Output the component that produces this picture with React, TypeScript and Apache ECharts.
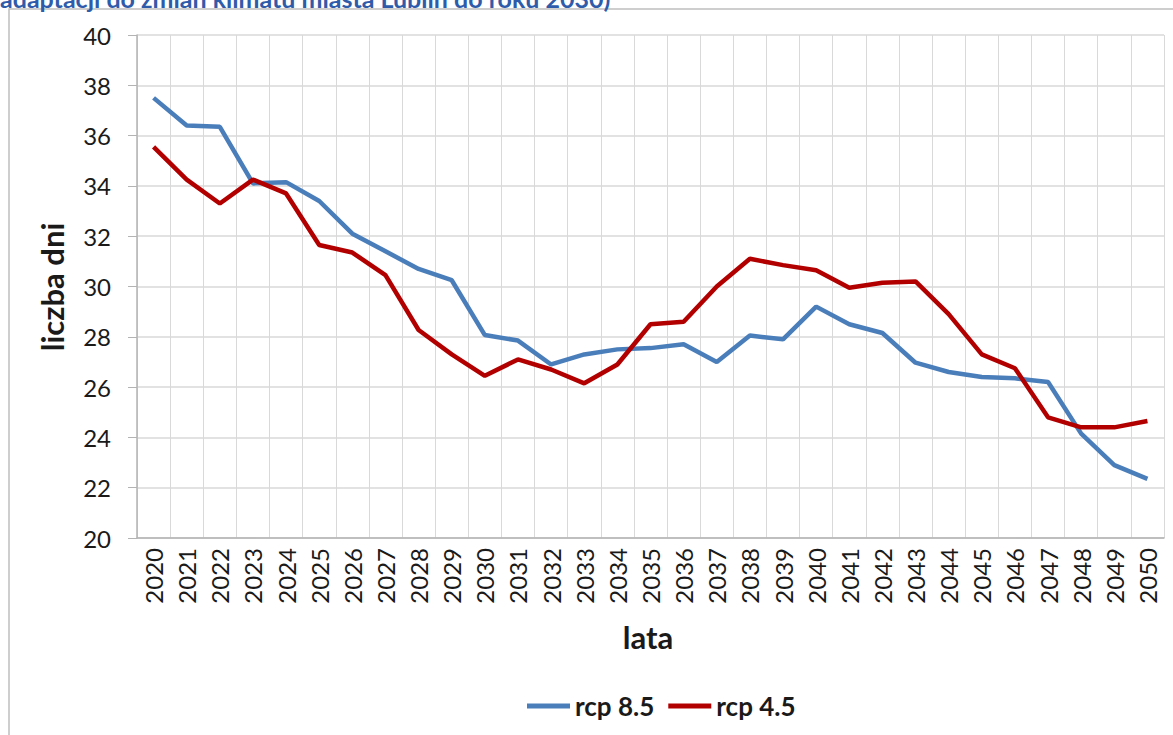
import React, { useEffect, useRef } from "react";
import * as echarts from "echarts";

const years = [
  "2020", "2021", "2022", "2023", "2024", "2025", "2026", "2027", "2028", "2029",
  "2030", "2031", "2032", "2033", "2034", "2035", "2036", "2037", "2038", "2039",
  "2040", "2041", "2042", "2043", "2044", "2045", "2046", "2047", "2048", "2049", "2050",
];

const rcp85 = [
  37.5, 36.4, 36.35, 34.1, 34.15, 33.4, 32.1, 31.4, 30.7, 30.25,
  28.07, 27.85, 26.9, 27.3, 27.5, 27.55, 27.7, 27.0, 28.05, 27.9,
  29.2, 28.5, 28.15, 26.97, 26.6, 26.4, 26.35, 26.2, 24.15, 22.9, 22.35,
];

const rcp45 = [
  35.55, 34.25, 33.3, 34.25, 33.7, 31.65, 31.35, 30.45, 28.27, 27.3,
  26.45, 27.1, 26.7, 26.15, 26.9, 28.5, 28.6, 30.0, 31.1, 30.85,
  30.65, 29.95, 30.15, 30.2, 28.9, 27.3, 26.75, 24.8, 24.4, 24.4, 24.65,
];

const seriesNames = ["rcp 8.5", "rcp 4.5"];
const titleText = "adaptacji do zmian klimatu miasta Lublin do roku 2030)";
const yAxisTitle = "liczba dni";
const xAxisTitle = "lata";

const FONT = "Lato, 'Open Sans', sans-serif";

export default function App() {
  const ref = useRef<HTMLDivElement>(null);

  useEffect(() => {
    document.body.style.margin = "0";
    if (!ref.current) return;
    const chart = echarts.init(ref.current, null, { renderer: "svg" });
    chart.setOption({
      animation: false,
      backgroundColor: "#ffffff",
      textStyle: { fontFamily: FONT },
      grid: { left: 137, right: 9, top: 35, bottom: 197, containLabel: false },
      xAxis: {
        type: "category",
        data: years,
        boundaryGap: true,
        axisLine: { show: true, lineStyle: { color: "#b3b3b3", width: 1.5 } },
        axisTick: { show: false },
        splitLine: { show: true, interval: 0, lineStyle: { color: "#d9d9d9", width: 1 } },
        axisLabel: {
          interval: 0,
          rotate: 90,
          margin: 10,
          fontSize: 24,
          color: "#1a1a1a",
          fontFamily: FONT,
        },
      },
      yAxis: {
        type: "value",
        min: 20,
        max: 40,
        interval: 2,
        axisLine: { show: true, lineStyle: { color: "#b3b3b3", width: 1.5 } },
        axisTick: { show: true, length: 9, lineStyle: { color: "#b3b3b3" } },
        splitLine: { show: true, lineStyle: { color: "#d9d9d9", width: 1.5 } },
        axisLabel: {
          margin: 26,
          fontSize: 24,
          color: "#1a1a1a",
          fontFamily: FONT,
        },
      },
      legend: {
        data: seriesNames,
        left: 522,
        top: 688,
        icon: "rect",
        itemWidth: 43,
        itemHeight: 5,
        itemGap: 14,
        textStyle: { fontSize: 26, fontWeight: "bold", color: "#1a1a1a", fontFamily: FONT },
      },
      series: [
        {
          name: seriesNames[0],
          type: "line",
          data: rcp85,
          symbol: "none",
          lineStyle: { color: "#4a7ebb", width: 4.5 },
          itemStyle: { color: "#4a7ebb" },
        },
        {
          name: seriesNames[1],
          type: "line",
          data: rcp45,
          symbol: "none",
          lineStyle: { color: "#b20000", width: 4.5 },
          itemStyle: { color: "#b20000" },
        },
      ],
      graphic: [
        {
          type: "rect",
          shape: { x: 9, y: 9, width: 1300, height: 900 },
          style: { fill: "none", stroke: "#bfbfbf", lineWidth: 1.5 },
          silent: true,
          z: -10,
        },
        {
          type: "text",
          x: 0,
          y: 10,
          style: {
            text: titleText,
            fontSize: 25,
            fontWeight: "bold",
            fill: "#2f5caa",
            fontFamily: FONT,
            verticalAlign: "bottom",
            align: "left",
          },
        },
        {
          type: "text",
          x: 52,
          y: 287,
          rotation: Math.PI / 2,
          style: {
            text: yAxisTitle,
            fontSize: 31,
            fontWeight: "bold",
            fill: "#1a1a1a",
            fontFamily: FONT,
            align: "center",
            verticalAlign: "middle",
          },
        },
        {
          type: "text",
          x: 648,
          y: 637,
          style: {
            text: xAxisTitle,
            fontSize: 31,
            fontWeight: "bold",
            fill: "#1a1a1a",
            fontFamily: FONT,
            align: "center",
            verticalAlign: "middle",
          },
        },
      ],
    });
    return () => chart.dispose();
  }, []);

  return <div ref={ref} style={{ width: 1173, height: 735 }} />;
}
